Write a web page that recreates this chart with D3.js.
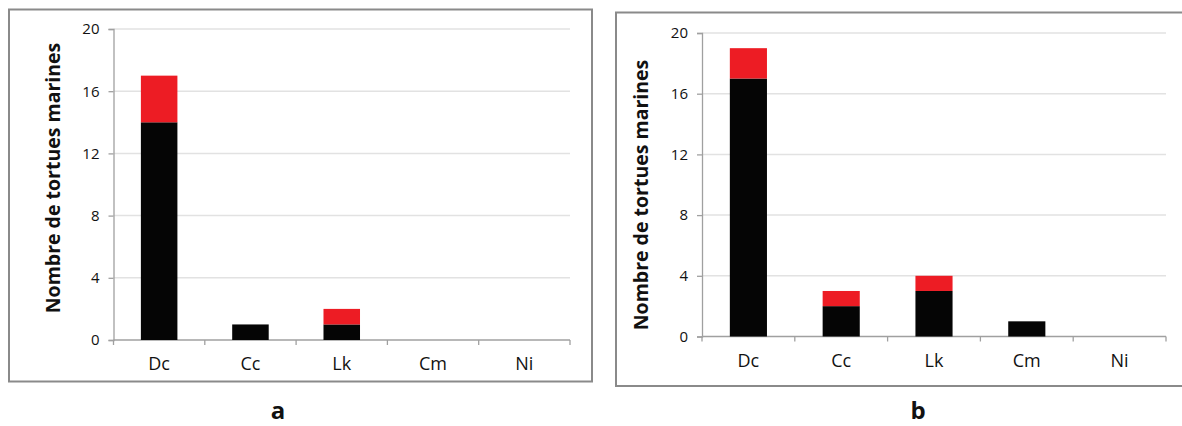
<!DOCTYPE html>
<html>
<head>
<meta charset="utf-8">
<script src="https://cdn.jsdelivr.net/npm/d3@7"></script>
<style>
  body { margin: 0; background: #fff; }
  svg text { font-family: "Open Sans", "Lato", sans-serif; fill: #111; }
</style>
</head>
<body>
<div id="chart"></div>
<script>
// data
const species = ["Dc", "Cc", "Lk", "Cm", "Ni"];
const yTicks = [0, 4, 8, 12, 16, 20];
// panel a
const blackA = [14, 1, 1, 0, 0];
const redA = [3, 0, 1, 0, 0];
// panel b
const blackB = [17, 2, 3, 1, 0];
const redB = [2, 1, 1, 0, 0];

const width = 1182;
const height = 426;

const svg = d3.select("#chart")
  .append("svg")
  .attr("width", width)
  .attr("height", height);

// draw one framed panel
function drawPanel(params) {
  const g = svg.append("g");

  // frame
  g.append("rect")
    .attr("x", params.frame[0])
    .attr("y", params.frame[1])
    .attr("width", params.frame[2])
    .attr("height", params.frame[3])
    .attr("fill", "none")
    .attr("stroke", "#8a8a8a")
    .attr("stroke-width", 2);

  const xScale = d3.scaleBand()
    .domain(species)
    .range([params.x0, params.x1])
    .paddingInner(0.6)
    .paddingOuter(0.3);

  const yScale = d3.scaleLinear()
    .domain([0, 20])
    .range([params.y0, params.y1]);

  // gridlines
  g.append("g")
    .selectAll("line")
    .data(yTicks.filter((d) => d > 0))
    .join("line")
    .attr("x1", params.x0)
    .attr("x2", params.x1)
    .attr("y1", (d) => yScale(d))
    .attr("y2", (d) => yScale(d))
    .attr("stroke", "#e2e2e2")
    .attr("stroke-width", 1.5);

  // y axis
  const yaxis = d3.axisLeft(yScale).tickValues(yTicks).tickSize(5).tickPadding(9);
  const ya = g.append("g")
    .attr("transform", `translate(${params.x0},0)`)
    .call(yaxis);
  ya.selectAll("path, line").attr("stroke", "#a0a0a0").attr("stroke-width", 1.3);
  ya.selectAll("text")
    .style("font-size", "15px")
    .style("font-family", "'Open Sans', sans-serif")
    .attr("fill", "#111");

  // x axis with ticks between categories
  const step = (params.x1 - params.x0) / species.length;
  const boundaries = d3.range(species.length + 1).map((i) => params.x0 + i * step);
  g.append("line")
    .attr("x1", params.x0)
    .attr("x2", params.x1)
    .attr("y1", params.y0)
    .attr("y2", params.y0)
    .attr("stroke", "#a0a0a0")
    .attr("stroke-width", 1.3);
  g.append("g")
    .selectAll("line")
    .data(boundaries)
    .join("line")
    .attr("x1", (d) => d)
    .attr("x2", (d) => d)
    .attr("y1", params.y0)
    .attr("y2", params.y0 + 5)
    .attr("stroke", "#a0a0a0")
    .attr("stroke-width", 1.3);

  g.append("g")
    .selectAll("text")
    .data(species)
    .join("text")
    .attr("x", (d) => xScale(d) + xScale.bandwidth() / 2)
    .attr("y", params.labelY)
    .attr("text-anchor", "middle")
    .style("font-size", "18px")
    .text((d) => d);

  // stacked bars
  const rows = species.map((s, i) => ({ s: s, black: params.black[i], red: params.red[i] }));
  g.append("g")
    .selectAll("rect")
    .data(rows.filter((d) => d.black > 0))
    .join("rect")
    .attr("x", (d) => xScale(d.s))
    .attr("width", xScale.bandwidth())
    .attr("y", (d) => yScale(d.black))
    .attr("height", (d) => yScale(0) - yScale(d.black))
    .attr("fill", "#050505");

  g.append("g")
    .selectAll("rect")
    .data(rows.filter((d) => d.red > 0))
    .join("rect")
    .attr("x", (d) => xScale(d.s))
    .attr("width", xScale.bandwidth())
    .attr("y", (d) => yScale(d.black + d.red))
    .attr("height", (d) => yScale(d.black) - yScale(d.black + d.red))
    .attr("fill", "#ed1c24");

  // y title
  g.append("text")
    .attr("transform", `translate(${params.titleX},${params.titleY}) rotate(-90)`)
    .attr("text-anchor", "middle")
    .style("font-size", "19.5px")
    .style("font-weight", "bold")
    .text("Nombre de tortues marines");

  // panel letter
  g.append("text")
    .attr("x", params.letterX)
    .attr("y", 419)
    .attr("text-anchor", "middle")
    .style("font-size", "24px")
    .style("font-weight", "bold")
    .text(params.letter);
}

drawPanel({
  frame: [9, 9.5, 583, 372],
  x0: 113.5, x1: 570, y0: 340, y1: 29,
  labelY: 370, titleX: 60, titleY: 178,
  black: blackA, red: redA, letter: "a", letterX: 278
});

drawPanel({
  frame: [616, 12.5, 580, 373.5],
  x0: 702, x1: 1166, y0: 336.5, y1: 33,
  labelY: 367, titleX: 648, titleY: 195,
  black: blackB, red: redB, letter: "b", letterX: 918
});
</script>
</body>
</html>
